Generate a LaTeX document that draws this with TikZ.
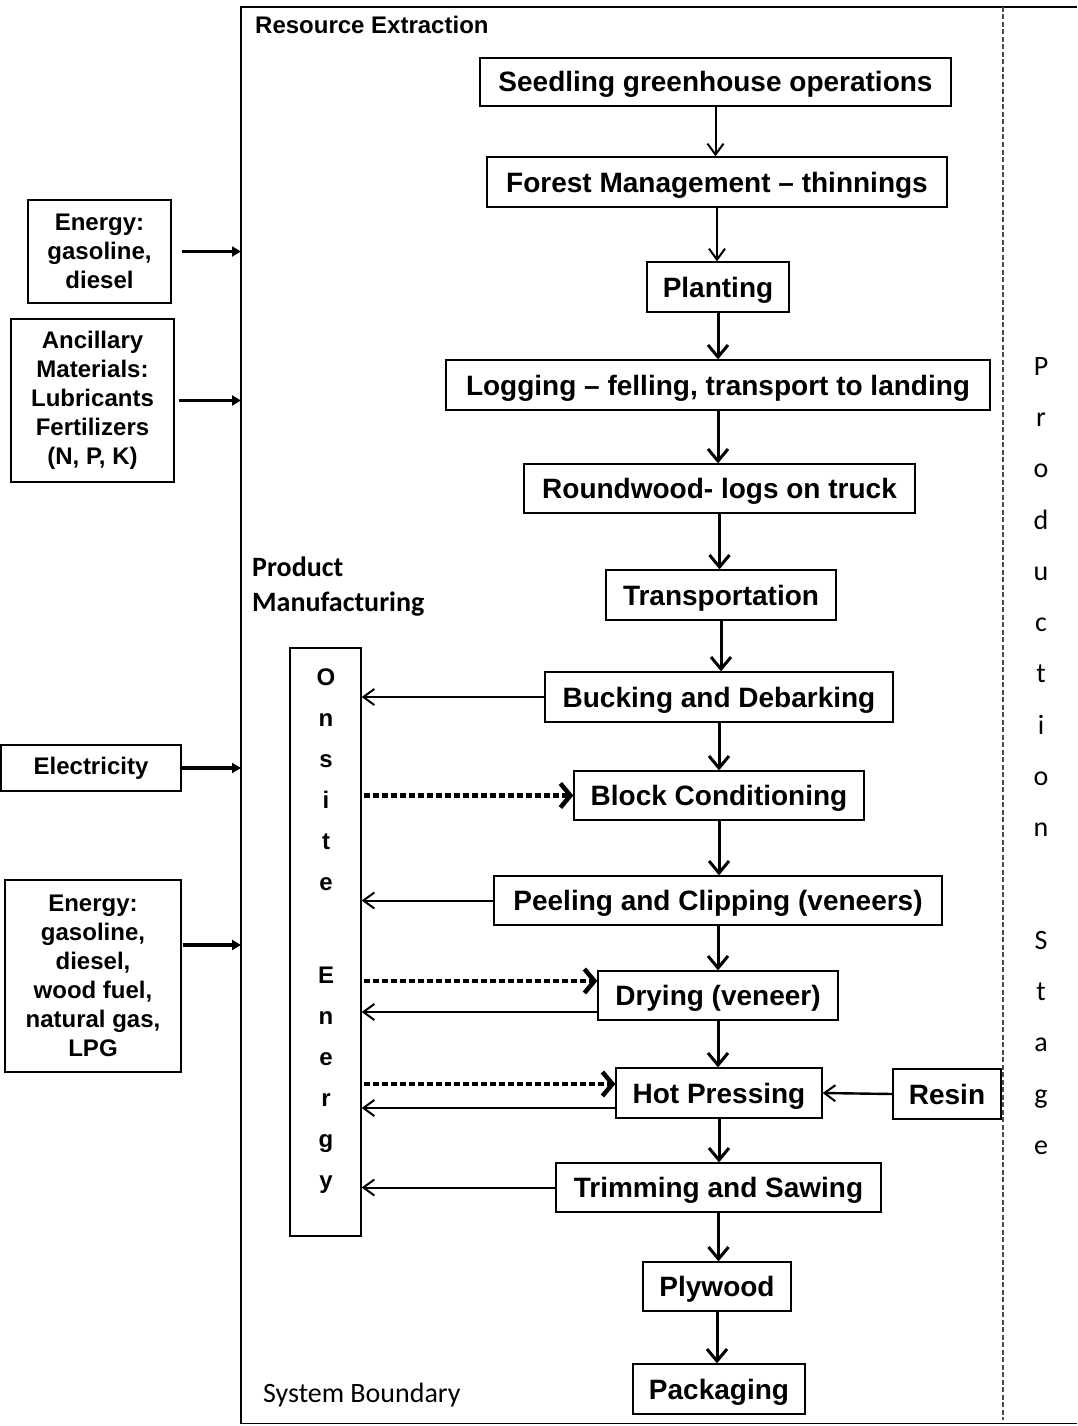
\documentclass[tikz,border=0pt]{standalone}
\usepackage{fontspec}
\setmainfont{Liberation Sans}
\newfontfamily\calibri{Carlito}
\usetikzlibrary{arrows.meta}
\begin{document}
\begin{tikzpicture}[x=1pt,y=-1pt,
  box/.style={draw, line width=1.3pt, inner sep=0pt, text height=24pt, text depth=4pt, font=\bfseries\fontsize{28}{32}\selectfont},
  inbox/.style={draw, line width=1.3pt, inner sep=0pt, align=center, font=\bfseries\fontsize{24}{29}\selectfont},
  thinarr/.style={line width=2pt, -{Straight Barb[length=11pt,width=16pt,line width=2pt]}},
  thickarr/.style={line width=3pt, -{Straight Barb[length=12pt,width=20pt,line width=3pt]}},
  dotarr/.style={line width=4.5pt, dash pattern=on 6pt off 3pt, -{Straight Barb[length=10pt,width=24pt,line width=4.5pt]}},
  inarr/.style={line width=3.5pt, -{Triangle[length=9pt,width=10pt]}},
  lbl/.style={inner sep=0pt}
]
\useasboundingbox (0,0) rectangle (1077,1426);
% system boundary
\draw[line width=1.5pt] (1077,7) -- (241,7) -- (241,1423.5) -- (1077,1423.5);
\coordinate (bnd) at (241,0);
\draw[line width=1.2pt, dash pattern=on 5pt off 2.5pt, black!70] (1003,7) -- (1003,1420);

% labels
\node[lbl, anchor=base west, font=\bfseries\fontsize{24}{29}\selectfont] (resx) at (255,34) {Resource Extraction};
\node[lbl, anchor=north west, align=left, font=\calibri\bfseries\fontsize{28}{35}\selectfont] (prodm) at (252,557) {Product\\Manufacturing};
\node[lbl, anchor=base west, font=\calibri\fontsize{28}{32}\selectfont] (sysb) at (263,1402) {System Boundary};
\node[lbl, anchor=north, align=center, font=\calibri\fontsize{28}{51.3}\selectfont] (pstage) at (1041,357)
  {P\\r\\o\\d\\u\\c\\t\\i\\o\\n\\[61pt]S\\t\\a\\g\\e};

% main chain
\node[box, minimum width=471pt, minimum height=48pt] (seed) at (715.5,82) {Seedling greenhouse operations};
\node[box, minimum width=460pt, minimum height=50pt] (forest) at (717,182) {Forest Management – thinnings};
\node[box, minimum width=142pt, minimum height=50pt] (plant) at (718,287) {Planting};
\node[box, minimum width=544pt, minimum height=50pt] (log) at (718,385) {Logging – felling, transport to landing};
\node[box, minimum width=391pt, minimum height=49pt] (round) at (719.5,488.5) {Roundwood- logs on truck};
\node[box, minimum width=230pt, minimum height=50pt] (transp) at (721,595) {Transportation};
\node[box, minimum width=348pt, minimum height=50pt] (buck) at (719,697) {Bucking and Debarking};
\node[box, minimum width=290pt, minimum height=49pt] (block) at (719,795.5) {Block Conditioning};
\node[box, minimum width=448pt, minimum height=49pt] (peel) at (718,900.5) {Peeling and Clipping (veneers)};
\node[box, minimum width=240pt, minimum height=49pt] (dry) at (718,995.5) {Drying (veneer)};
\node[box, minimum width=206pt, minimum height=50pt] (hot) at (719,1093) {Hot Pressing};
\node[box, minimum width=108pt, minimum height=50pt] (resin) at (947,1094) {Resin};
\node[box, minimum width=325pt, minimum height=49pt] (trim) at (718.5,1187.5) {Trimming and Sawing};
\node[box, minimum width=148pt, minimum height=49pt] (ply) at (717,1286.5) {Plywood};
\node[box, minimum width=172pt, minimum height=50pt] (pack) at (719,1389) {Packaging};

% onsite energy
\node[draw, line width=1.3pt, minimum width=71pt, minimum height=588pt, inner sep=0pt] (onsite) at (325.5,942) {};
\node[lbl, anchor=north, align=center, font=\bfseries\fontsize{24}{41}\selectfont] (onsitetxt) at (326,668.5)
  {O\\n\\s\\i\\t\\e\\[52pt]E\\n\\e\\r\\g\\y};

% inputs
\node[inbox, minimum width=143pt, minimum height=103pt] (ea) at (99.5,251.5) {Energy:\\gasoline,\\diesel};
\node[inbox, minimum width=163pt, minimum height=163pt] (anc) at (92.5,400.5) {Ancillary\\Materials:\\Lubricants\\Fertilizers\\(N, P, K)};
\node[inbox, minimum width=180pt, minimum height=46pt] (elec) at (91,768) {Electricity};
\node[inbox, minimum width=176pt, minimum height=192pt] (eb) at (93,976) {Energy:\\gasoline,\\diesel,\\wood fuel,\\natural gas,\\LPG};

\coordinate (eby) at (0,945);
\draw[inarr] ([xshift=10pt]ea.east) -- (ea.east -| bnd);
\draw[inarr] ([xshift=4pt]anc.east) -- (anc.east -| bnd);
\draw[inarr] (elec.east) -- (elec.east -| bnd);
\draw[inarr] ([xshift=1pt]eb.east |- eby) -- (bnd |- eby);

% chain arrows
\draw[thinarr] (seed.south) -- (seed.south |- forest.north);
\draw[thinarr] (forest.south) -- (forest.south |- plant.north);
\draw[thickarr] (plant.south) -- (plant.south |- log.north);
\draw[thickarr] (log.south) -- (log.south |- round.north);
\draw[thickarr] (round.south) -- (round.south |- transp.north);
\draw[thickarr] (transp.south) -- (transp.south |- buck.north);
\draw[thickarr] (buck.south) -- (buck.south |- block.north);
\draw[thickarr] (block.south) -- (block.south |- peel.north);
\draw[thickarr] (peel.south) -- (peel.south |- dry.north);
\draw[thickarr] (dry.south) -- (dry.south |- hot.north);
\draw[thickarr] (hot.south) -- (hot.south |- trim.north);
\draw[thickarr] (trim.south) -- (trim.south |- ply.north);
\draw[thickarr] (ply.south) -- (ply.south |- pack.north);

% resin
\draw[thinarr, line width=2.4pt] (resin.west) -- (hot.east);

% energy outputs to onsite
\coordinate (dryout) at (0,1012);
\coordinate (hotout) at (0,1108);
\draw[thinarr] (buck.west) -- (buck.west -| onsite.east);
\draw[thinarr] (peel.west) -- (peel.west -| onsite.east);
\draw[thinarr] (dry.west |- dryout) -- (onsite.east |- dryout);
\draw[thinarr] (hot.west |- hotout) -- (onsite.east |- hotout);
\draw[thinarr] (trim.west) -- (trim.west -| onsite.east);

% onsite energy supplied (dotted)
\coordinate (dryin) at (0,981);
\coordinate (hotin) at (0,1084);
\draw[dotarr] ([xshift=2pt]onsite.east |- block.west) -- (block.west);
\draw[dotarr] ([xshift=2pt]onsite.east |- dryin) -- (dry.west |- dryin);
\draw[dotarr] ([xshift=2pt]onsite.east |- hotin) -- (hot.west |- hotin);
\end{tikzpicture}
\end{document}
